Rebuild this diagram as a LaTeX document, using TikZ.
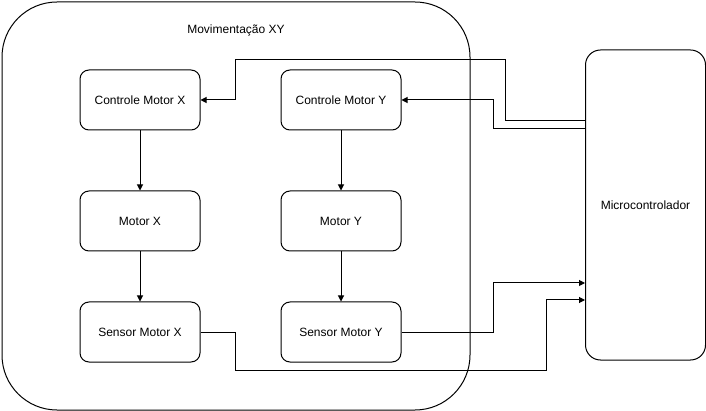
\documentclass[tikz,border=0pt]{standalone}
\usepackage{fontspec}
\setmainfont{Liberation Sans}
\usetikzlibrary{arrows.meta}
\usetikzlibrary{positioning}

\begin{document}
\begin{tikzpicture}[
    x=1pt, y=-1pt, line width=1pt,
    node distance = 60pt and 80pt,
every node/.style = {font=\fontsize{12}{14}\selectfont},
    bloco/.style = {draw, rounded corners=9pt, minimum width=120pt,
                    minimum height=60pt, inner sep=2pt},
     seta/.style = {-{Triangle[length=6pt,width=6pt]}}]
\useasboundingbox (0,0) rectangle (706,411);
% grupo movimentacao
\node[draw, rounded corners=55pt, minimum width=468pt, minimum height=408pt,
      anchor=north west]         (mov)    at (1.5,1.5) {};
\node                            (titulo) at (236,30)  {Movimentação XY};
\node[bloco]                     (ctrlx)  at (140,100) {Controle Motor X};
\node[bloco, right=of ctrlx]     (ctrly)  {Controle Motor Y};
\node[bloco, below=of ctrlx]     (motx)   {Motor X};
\node[bloco, below=of ctrly]     (moty)   {Motor Y};
\node[bloco, below=50pt of motx] (sensx)  {Sensor Motor X};
\node[bloco, below=50pt of moty] (sensy)  {Sensor Motor Y};
% microcontrolador
\node[draw, rounded corners=15pt, minimum width=120pt, minimum height=310pt]
                                 (micro)  at (645.5,205) {Microcontrolador};
\coordinate (saida1)   at (micro.west |- 0,121);
\coordinate (saida2)   at (micro.west |- 0,129);
\coordinate (entrada1) at (micro.west |- 0,283);
\coordinate (entrada2) at (micro.west |- 0,300);
    \draw[seta] (ctrlx) -- (motx);
    \draw[seta] (motx)  -- (sensx);
    \draw[seta] (ctrly) -- (moty);
    \draw[seta] (moty)  -- (sensy);
    \draw[seta] (saida1) -| (505,60) -| (235,100) -- (ctrlx.east);
    \draw[seta] (saida2) -| (493,100) -- (ctrly.east);
    \draw[seta] (sensy.east) -| (493,283) -- (entrada1);
    \draw[seta] (sensx.east) -| (235,370) -| (546,300) -- (entrada2);
\end{tikzpicture}
\end{document}
